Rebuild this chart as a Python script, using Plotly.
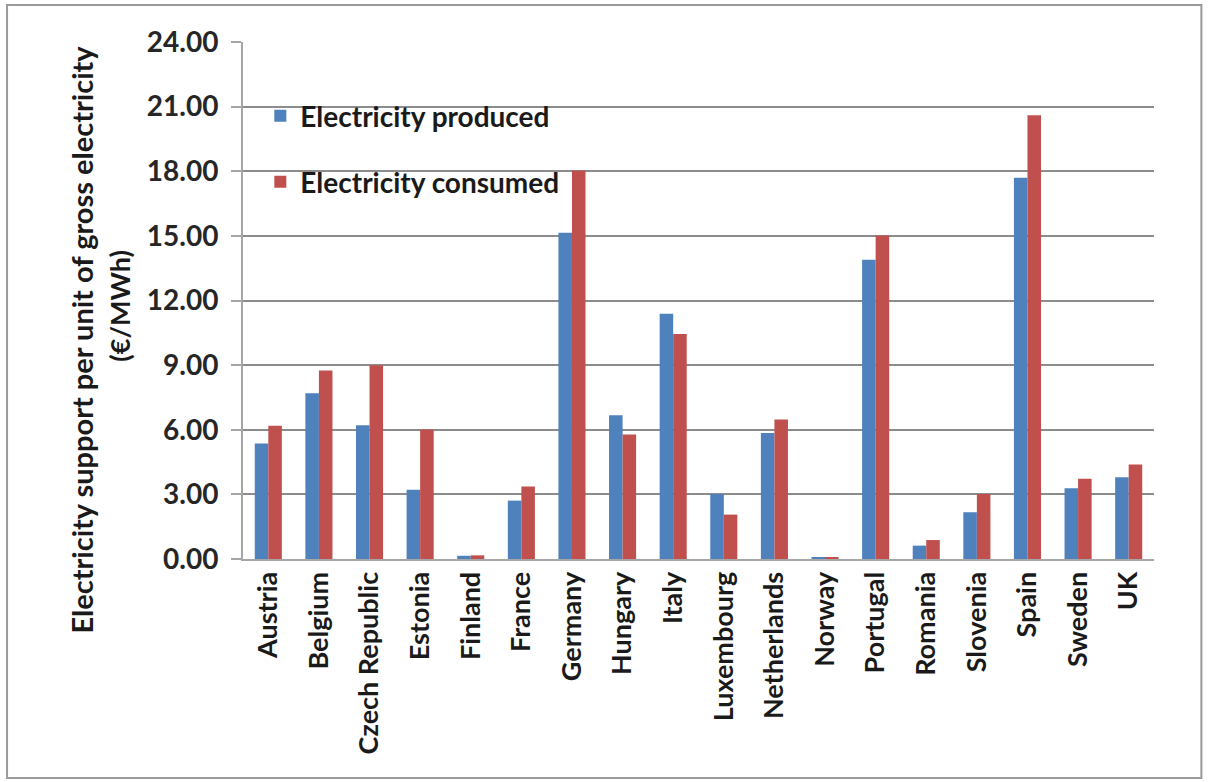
import plotly.graph_objects as go

countries = ["Austria", "Belgium", "Czech Republic", "Estonia", "Finland", "France",
             "Germany", "Hungary", "Italy", "Luxembourg", "Netherlands", "Norway",
             "Portugal", "Romania", "Slovenia", "Spain", "Sweden", "UK"]
produced = [5.36, 7.69, 6.21, 3.21, 0.15, 2.71, 15.14, 6.67, 11.39, 3.02, 5.85, 0.08,
            13.89, 0.62, 2.17, 17.70, 3.29, 3.80]
consumed = [6.18, 8.75, 9.00, 6.01, 0.17, 3.36, 18.03, 5.78, 10.45, 2.06, 6.48, 0.09,
            15.02, 0.88, 3.02, 20.60, 3.73, 4.39]
y_ticks = [0, 3, 6, 9, 12, 15, 18, 21, 24]
y_title = ["Electricity support per unit of gross electricity", "(€/MWh)"]

BLUE = "#4F81BD"
RED = "#C0504D"
FONT = "Lato"
TXT = "#1a1a1a"

fig = go.Figure()
fig.add_trace(go.Bar(x=countries, y=produced, name="Electricity produced",
                     marker=dict(color=BLUE, line=dict(width=0)), legend="legend"))
fig.add_trace(go.Bar(x=countries, y=consumed, name="Electricity consumed",
                     marker=dict(color=RED, line=dict(width=0)), legend="legend2"))

legend_style = dict(
    xref="paper", yref="paper", xanchor="left", yanchor="middle",
    bgcolor="rgba(0,0,0,0)", borderwidth=0,
    font=dict(family=FONT, size=28, color=TXT, weight="bold"),
    itemwidth=30,
)

# two-line rotated y-axis title, set line by line for tight spacing
title_notes = [
    dict(text=y_title[0], x=-0.177, y=0.424, size=29),
    dict(text=y_title[1], x=-0.135, y=0.49, size=27),
]
annotations = [
    dict(xref="paper", yref="paper", xanchor="center", yanchor="middle",
         textangle=-90, showarrow=False, text=n["text"], x=n["x"], y=n["y"],
         font=dict(family=FONT, size=n["size"], color=TXT, weight="bold"))
    for n in title_notes
]

fig.update_layout(
    width=1216, height=782,
    margin=dict(l=243, r=62, t=42, b=223),
    paper_bgcolor="white", plot_bgcolor="white",
    barmode="group", bargap=0.465, bargroupgap=0,
    font=dict(family=FONT, color=TXT),
    showlegend=True,
    legend=dict(x=0.019, y=0.857, **legend_style),
    legend2=dict(x=0.019, y=0.729, **legend_style),
    xaxis=dict(
        tickangle=-90,
        tickfont=dict(family=FONT, size=27, color=TXT, weight="bold"),
        showline=True, linecolor="#a6a6a6", linewidth=2,
        ticks="", showgrid=False,
    ),
    yaxis=dict(
        range=[0, 24], tickvals=y_ticks, tickformat=".2f",
        tickfont=dict(family=FONT, size=28, color="#262626", weight="bold"),
        showgrid=True, gridcolor="#8c8c8c", gridwidth=2,
        showline=True, linecolor="#a6a6a6", linewidth=2,
        ticks="outside", ticklen=10, tickcolor="#a6a6a6", tickwidth=2,
        ticklabelstandoff=7,
        zeroline=False,
    ),
    annotations=annotations,
    shapes=[dict(type="rect", xref="paper", yref="paper",
                 x0=-0.259, x1=1.052, y0=-0.4236, y1=1.0716,
                 line=dict(color="#9a9a9a", width=2), fillcolor="rgba(0,0,0,0)",
                 layer="below")],
)

fig.write_html("out.html")
